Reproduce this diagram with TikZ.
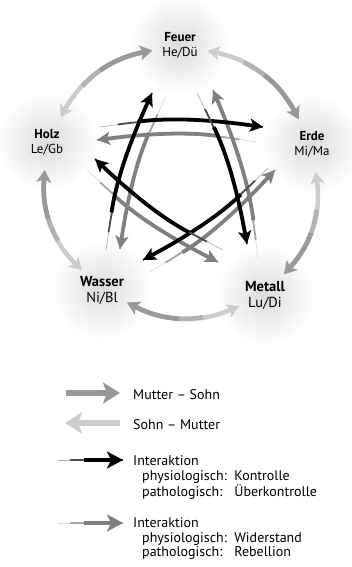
\documentclass[tikz,border=0pt]{standalone}
\usepackage{fontspec}
\setmainfont{PT Sans}
\usetikzlibrary{arrows.meta,positioning,backgrounds}
\definecolor{mscol}{gray}{0.60}
\definecolor{mdcol}{gray}{0.70}
\definecolor{smcol}{gray}{0.80}
\definecolor{wcol}{gray}{0.50}
\tikzset{
  kopf/.tip={Stealth[length=13pt,width=13pt,inset=3pt]},
  ring/.tip={Stealth[length=12pt,width=14pt,inset=3pt]},
  elem/.style={circle,minimum size=56pt,inner sep=0pt,align=center,font=\fontsize{13}{15}\selectfont},
  gross/.style={font=\fontsize{14.5}{16}\selectfont},
  glow/.style={shading=radial,inner color=black!14,outer color=white},
  zyklus/.style={draw=smcol,line width=4.5pt,ring-ring,
    postaction={draw=mdcol,dash pattern=on 0pt off 38pt on 300pt,-ring},
    postaction={draw=mscol,dash pattern=on 0pt off 62pt on 300pt,-ring}},
  taper/.style n args={3}{draw=#1!30,line width=.7pt,
    postaction={draw=#1!70,line width=1.8pt,shorten <=#2},
    postaction={draw=#1,line width=3.8pt,shorten <=#3,-kopf}},
  kontrolle/.style={taper={black}{18pt}{38pt}},
  widerstand/.style={taper={wcol}{18pt}{38pt}},
  legms/.style={draw=mscol,line width=6pt,-{Stealth[length=17pt,width=21pt,inset=4pt]}},
  legsm/.style={legms,draw=smcol},
  legtext/.style={anchor=base west,inner sep=0pt,font=\fontsize{14}{14.5}\selectfont},
}
\begin{document}
\begin{tikzpicture}[x=1pt,y=-1pt]
  \useasboundingbox (0,0) rectangle (351,567);
  % Elemente
  \node[elem] (feuer)  at (180,45)  {\textbf{Feuer}\\He/Dü};
  \node[elem] (erde)   at (312,144) {\textbf{Erde}\\Mi/Ma};
  \node[elem,gross] (metall) at (265,295) {\textbf{Metall}\\Lu/Di};
  \node[elem,gross] (wasser) at (102,290) {\textbf{Wasser}\\Ni/Bl};
  \node[elem] (holz)   at (47,142)  {\textbf{Holz}\\Le/Gb};
  \begin{scope}[on background layer]
    \foreach \n in {feuer,erde,metall,wasser,holz} \shade[glow] (\n) circle (50pt);
  \end{scope}
  % Mutter - Sohn / Sohn - Mutter
  \draw[zyklus] (holz) to[bend left=25] (feuer);
  \draw[zyklus] (feuer) to[bend left=25] (erde);
  \draw[zyklus] (erde) to[bend left=25] (metall);
  \draw[zyklus] (metall) to[bend left=25] (wasser);
  \draw[zyklus] (wasser) to[bend left=25] (holz);
  % Enden der Interaktionen
  \coordinate (w1s) at (257,142); \coordinate (w1e) at (97,140);
  \coordinate (w2s) at (165,98);  \coordinate (w2e) at (120,249);
  \coordinate (w3s) at (258,258); \coordinate (w3e) at (213,90);
  \coordinate (w4s) at (150,272); \coordinate (w4e) at (275,170);
  \coordinate (w5s) at (87,170);  \coordinate (w5e) at (218,262);
  \coordinate (k1s) at (100,127); \coordinate (k1e) at (263,127);
  \coordinate (k2s) at (106,250); \coordinate (k2e) at (152,93);
  \coordinate (k3s) at (197,93);  \coordinate (k3e) at (247,244);
  \coordinate (k4s) at (268,168); \coordinate (k4e) at (143,260);
  \coordinate (k5s) at (223,250); \coordinate (k5e) at (95,159);
  % Widerstand
  \draw[widerstand] (w1s) to[bend right=8] (w1e);
  \draw[widerstand] (w2s) to[bend right=8] (w2e);
  \draw[widerstand] (w3s) to[bend right=8] (w3e);
  \draw[widerstand] (w4s) to[bend right=8] (w4e);
  \draw[widerstand] (w5s) to[bend right=8] (w5e);
  % Kontrolle
  \draw[kontrolle] (k1s) to[bend left=8] (k1e);
  \draw[kontrolle] (k2s) to[bend left=8] (k2e);
  \draw[kontrolle] (k3s) to[bend left=8] (k3e);
  \draw[kontrolle] (k4s) to[bend left=8] (k4e);
  \draw[kontrolle] (k5s) to[bend left=8] (k5e);
  % Legende
  \node[legtext] (lms) at (133,399) {Mutter -- Sohn};
  \node[legtext] (lsm) at (133,429) {Sohn -- Mutter};
  \node[legtext] (lk)  at (133,465) {Interaktion};
  \node[legtext] (lkd) at (142,480) {\begin{tabular}[t]{@{}l@{\ \ }l@{}}physiologisch: & Kontrolle\\ pathologisch: & Überkontrolle\end{tabular}};
  \node[legtext] (lw)  at (133,527) {Interaktion};
  \node[legtext] (lwd) at (142,542) {\begin{tabular}[t]{@{}l@{\ \ }l@{}}physiologisch: & Widerstand\\ pathologisch: & Rebellion\end{tabular}};
  \coordinate (a1) at (66,393);  \coordinate (b1) at (120,393);
  \coordinate (a2) at (120,423); \coordinate (b2) at (65,423);
  \coordinate (a3) at (58,460);  \coordinate (b3) at (123,460);
  \coordinate (a4) at (58,523);  \coordinate (b4) at (123,523);
  \begin{scope}[kopf/.tip={Stealth[length=16pt,width=17pt,inset=4pt]}]
    \draw[legms] (a1) -- (b1);
    \draw[legsm] (a2) -- (b2);
    \draw[taper={black}{12pt}{26pt}] (a3) -- (b3);
    \draw[taper={wcol}{12pt}{26pt}] (a4) -- (b4);
  \end{scope}
\end{tikzpicture}
\end{document}
